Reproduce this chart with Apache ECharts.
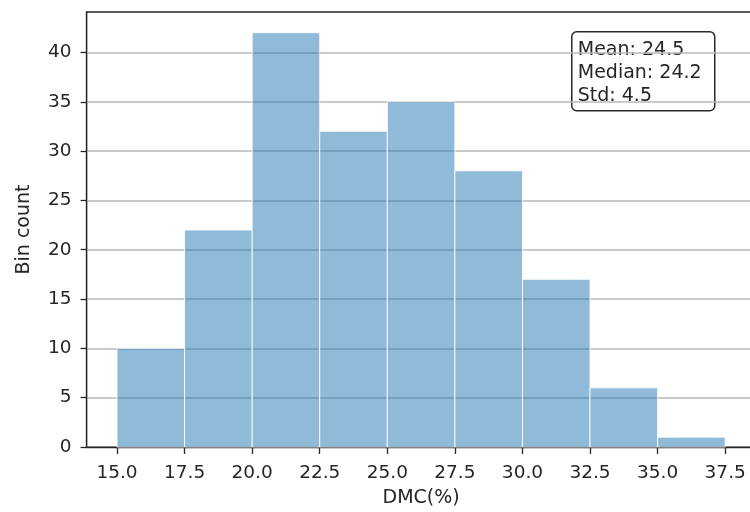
<!DOCTYPE html>
<html>
<head>
<meta charset="utf-8">
<script src="https://cdn.jsdelivr.net/npm/echarts@6/dist/echarts.min.js"></script>
<style>
  html, body { margin: 0; padding: 0; background: #fff; }
  #chart { width: 750px; height: 512px; }
</style>
</head>
<body>
<div id="chart"></div>
<script>
// Histogram of dry matter content (DMC, %)
const binEdges = [15.0, 17.5, 20.0, 22.5, 25.0, 27.5, 30.0, 32.5, 35.0, 37.5];
const binCounts = [10, 22, 42, 32, 35, 28, 17, 6, 1];
const xTickValues = [15.0, 17.5, 20.0, 22.5, 25.0, 27.5, 30.0, 32.5, 35.0, 37.5];
const yTickValues = [0, 5, 10, 15, 20, 25, 30, 35, 40];
const statLines = ['Mean: 24.5', 'Median: 24.2', 'Std: 4.5'];
const xName = 'DMC(%)';
const yName = 'Bin count';

const FONT = 'DejaVu Sans';
const TEXT = '#262626';
const SPINE = '#262626';

// one rectangle per bin: [left edge, right edge, count]
const bins = binCounts.map((c, i) => [binEdges[i], binEdges[i + 1], c]);

// axis limits padded 5% of the data span on each side
const xSpan = binEdges[binEdges.length - 1] - binEdges[0];
const xMin = binEdges[0] - 0.05 * xSpan;
const xMax = binEdges[binEdges.length - 1] + 0.05 * xSpan;
const yMax = Math.max(...binCounts) * 1.05;

const chart = echarts.init(document.getElementById('chart'), null, { renderer: 'canvas' });

chart.setOption({
  animation: false,
  backgroundColor: '#fff',
  textStyle: { fontFamily: FONT },
  grid: {
    left: 86.6,
    top: 12,
    width: 669,
    height: 435,
    show: true,
    borderColor: SPINE,
    borderWidth: 1.3,
    outerBoundsMode: 'none',
    containLabel: false
  },
  xAxis: {
    type: 'value',
    min: xMin,
    max: xMax,
    name: xName,
    nameLocation: 'middle',
    nameGap: 42,
    nameTextStyle: { fontFamily: FONT, fontSize: 19, color: TEXT },
    axisLine: { show: true, lineStyle: { color: SPINE, width: 1.3 } },
    axisTick: { show: true, length: 7, lineStyle: { color: SPINE, width: 1.3 }, customValues: xTickValues },
    axisLabel: {
      show: true,
      margin: 17,
      fontFamily: FONT,
      fontSize: 18.5,
      color: TEXT,
      customValues: xTickValues,
      formatter: v => Number(v).toFixed(1)
    },
    splitLine: { show: false }
  },
  yAxis: {
    type: 'value',
    min: 0,
    max: yMax,
    interval: 5,
    name: yName,
    nameLocation: 'middle',
    nameGap: 53,
    nameRotate: 90,
    nameTextStyle: { fontFamily: FONT, fontSize: 19, color: TEXT },
    axisLine: { show: true, lineStyle: { color: SPINE, width: 1.3 } },
    axisTick: { show: true, length: 6, lineStyle: { color: SPINE, width: 1.3 }, customValues: yTickValues },
    axisLabel: {
      show: true,
      margin: 15,
      fontFamily: FONT,
      fontSize: 18.5,
      color: TEXT,
      customValues: yTickValues
    },
    splitLine: { show: true, lineStyle: { color: '#b8b8b8', width: 1.5 } }
  },
  series: [{
    type: 'custom',
    data: bins,
    encode: { x: [0, 1], y: 2 },
    renderItem: function (params, api) {
      const topLeft = api.coord([api.value(0), api.value(2)]);
      const bottomRight = api.coord([api.value(1), 0]);
      return {
        type: 'rect',
        shape: {
          x: topLeft[0],
          y: topLeft[1],
          width: bottomRight[0] - topLeft[0],
          height: bottomRight[1] - topLeft[1]
        },
        style: {
          fill: 'rgba(31,119,180,0.5)',
          stroke: 'rgba(255,255,255,0.85)',
          lineWidth: 1
        }
      };
    }
  }],
  graphic: [{
    type: 'group',
    left: 571,
    top: 31,
    children: [
      {
        type: 'rect',
        shape: { x: 0, y: 0, width: 143, height: 79, r: 5 },
        style: { fill: '#fff', stroke: '#2a2a2a', lineWidth: 1.5 }
      }
    ].concat(statLines.map((line, i) => ({
      type: 'text',
      x: 6,
      y: 18.5 + i * 23,
      style: {
        text: line,
        font: '19px "DejaVu Sans"',
        fill: TEXT,
        textVerticalAlign: 'middle',
        verticalAlign: 'middle'
      }
    })))
  }]
});
</script>
</body>
</html>
